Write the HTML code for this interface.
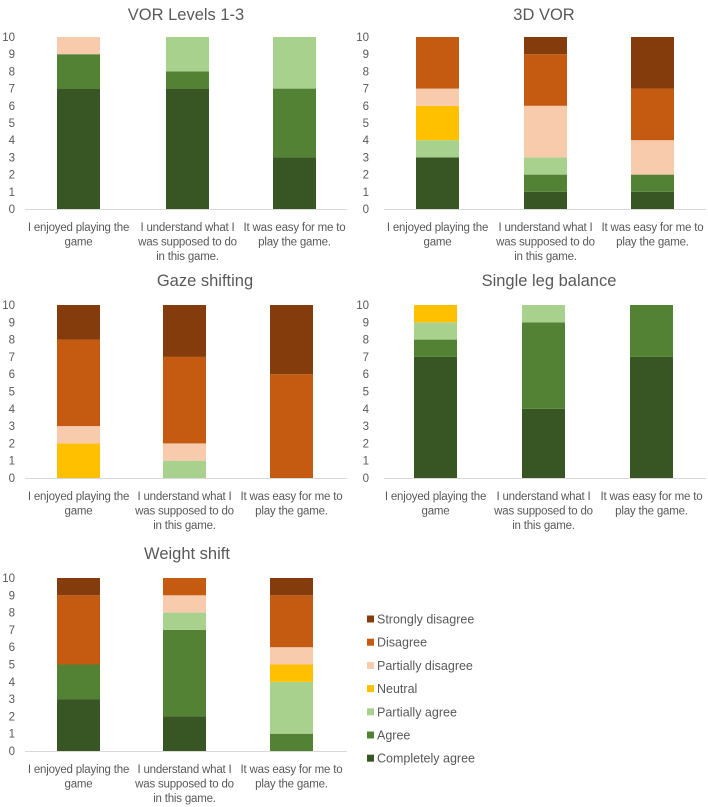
<!DOCTYPE html>
<html><head><meta charset="utf-8"><style>
html,body{margin:0;padding:0;background:#fff;}
svg{display:block;font-family:"Liberation Sans",sans-serif;}
</style></head><body>
<svg id="c" width="708" height="807" viewBox="0 0 708 807"></svg>
<script>
const categories = ["I enjoyed playing the|game","I understand what I|was supposed to do|in this game.","It was easy for me to|play the game."];
const seriesNames = ["Completely agree","Agree","Partially agree","Neutral","Partially disagree","Disagree","Strongly disagree"];
const yTicks = [0,1,2,3,4,5,6,7,8,9,10];
const panelTitles = ["VOR Levels 1-3","3D VOR","Gaze shifting","Single leg balance","Weight shift"];
const vorValues = [[7,2,0,0,1,0,0],[7,1,2,0,0,0,0],[3,4,3,0,0,0,0]];
const vor3dValues = [[3,0,1,2,1,3,0],[1,1,1,0,3,3,1],[1,1,0,0,2,3,3]];
const gazeValues = [[0,0,0,2,1,5,2],[0,0,1,0,1,5,3],[0,0,0,0,0,6,4]];
const singleLegValues = [[7,1,1,1,0,0,0],[4,5,1,0,0,0,0],[7,3,0,0,0,0,0]];
const weightValues = [[3,2,0,0,0,4,1],[2,5,1,0,1,1,0],[0,1,3,1,1,3,1]];
const colors = ["#375623","#548235","#a9d18e","#ffc000","#f8cbad","#c55a11","#843c0c"];

const panelData = [vorValues,vor3dValues,gazeValues,singleLegValues,weightValues];
const layouts = [
 {ax0:25,ax1:347,tickX:15,y10:37,y0:209,bars:[57,166,273],titleX:186,titleY:20},
 {ax0:384,ax1:706,tickX:369,y10:37,y0:209,bars:[416,524,631],titleX:544,titleY:20},
 {ax0:25,ax1:347,tickX:15,y10:305,y0:478,bars:[57,163,270],titleX:205,titleY:286},
 {ax0:384,ax1:706,tickX:369,y10:305,y0:478,bars:[414,522,630],titleX:549,titleY:286},
 {ax0:25,ax1:347,tickX:15,y10:578,y0:751,bars:[57,163,270],titleX:187,titleY:559}
];
const NS="http://www.w3.org/2000/svg";
const svg=document.getElementById('c');
function mk(tag,attrs,parent){const e=document.createElementNS(NS,tag);for(const k in attrs)e.setAttribute(k,attrs[k]);(parent||svg).appendChild(e);return e;}
const BW=43;
panelData.forEach((data,p)=>{
  const L=layouts[p];
  const g=mk('g',{});
  
  
  const yScale=v=>L.y0-(L.y0-L.y10)*v/10;
  const t=mk('text',{x:L.titleX,y:L.titleY,'text-anchor':'middle','font-size':'16.5',fill:'#595959'},g);
  t.textContent=panelTitles[p];
  
  
  yTicks.forEach(v=>{
    const tt=mk('text',{x:L.tickX,y:yScale(v)+4,'text-anchor':'end','font-size':'11.5',fill:'#595959'},g);
    tt.textContent=v;
    
    
  });
  data.forEach((vals,b)=>{
    let cum=0;
    vals.forEach((v,s)=>{
      if(v>0){
        const r=mk('rect',{x:L.bars[b],y:yScale(cum+v),width:BW,height:yScale(cum)-yScale(cum+v),fill:colors[s]},g);
        
        
      }
      cum+=v;
    });
    const cx=L.bars[b]+BW/2;
    categories[b].split('|').forEach((line,i)=>{
      const ct=mk('text',{x:cx,y:L.y0+22+i*14.5,'text-anchor':'middle','font-size':'11.5','letter-spacing':'-0.2',fill:'#595959'},g);
      ct.textContent=line;
      
      
    });
  });
  const ax=mk('line',{x1:L.ax0,x2:L.ax1,y1:L.y0+0.5,y2:L.y0+0.5,stroke:'#d9d9d9','stroke-width':1},g);
  
  
});
const lg=mk('g',{});


for(let i=seriesNames.length-1,row=0;i>=0;i--,row++){
  const y=619+row*23.2;
  const sq=mk('rect',{x:367,y:y-3.5,width:7,height:7,fill:colors[i]},lg);
  
  
  const tx=mk('text',{x:377,y:y+4.5,'font-size':'12.5',fill:'#595959'},lg);
  tx.textContent=seriesNames[i];
  
  
}
</script>
</body></html>
